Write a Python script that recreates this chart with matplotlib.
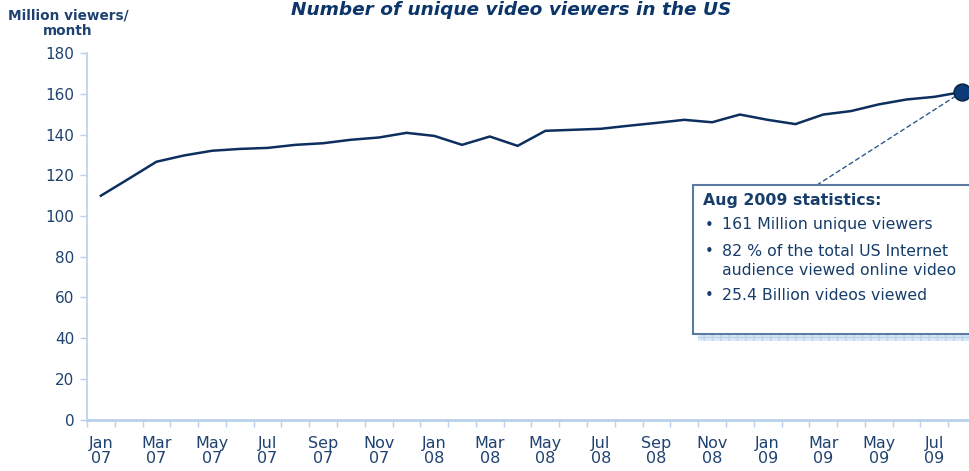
import matplotlib
matplotlib.use("Agg")
import matplotlib.pyplot as plt
from matplotlib.patches import Rectangle
import numpy as np

# Monthly unique video viewers in the US (millions), Jan 2007 - Aug 2009
months = ["Jan", "Feb", "Mar", "Apr", "May", "Jun", "Jul", "Aug", "Sep", "Oct", "Nov", "Dec"]
years = ["07", "08", "09"]
viewers = [110.0, 118.3, 126.7, 129.8, 132.1, 133.0, 133.5, 135.0, 135.8, 137.5, 138.6, 140.9,
           139.4, 135.0, 139.1, 134.5, 141.9, 142.4, 142.9, 144.4, 145.8, 147.3, 146.1, 149.9,
           147.3, 145.2, 149.9, 151.6, 154.9, 157.3, 158.6, 161.0]
labels = [f"{months[i % 12]}\n{years[i // 12]}" for i in range(len(viewers))]

title = "Number of unique video viewers in the US"
ylabel = "Million viewers/\nmonth"
box_title = "Aug 2009 statistics:"
box_items = ["161 Million unique viewers",
             "82 % of the total US Internet\naudience viewed online video",
             "25.4 Billion videos viewed"]

NAVY = "#0d2f5f"
TEXT = "#1f4270"
BOXTEXT = "#173d6b"
AXIS = "#b9d1ea"

W, H = 970, 471
fig = plt.figure(figsize=(W / 100, H / 100), dpi=100)
fig.patch.set_facecolor("white")

def fx(px):
    return px / W

def fy(py):
    return 1 - py / H

ax_left, ax_right, ax_top, ax_bottom = 87, 976, 53.3, 419.5
ax = fig.add_axes([fx(ax_left), fy(ax_bottom), fx(ax_right - ax_left), (ax_bottom - ax_top) / H])

x = np.arange(len(viewers))
ax.plot(x, viewers, color=NAVY, lw=1.8, solid_joinstyle="miter", clip_on=False)
ax.plot(x[-1], viewers[-1], "o", ms=12, mfc="#0e3c78", mec="#0a2548", mew=1.2, clip_on=False, zorder=5)

ax.set_xlim(-0.5, len(viewers) - 0.5)
ax.set_ylim(0, 180)
ax.set_yticks(np.arange(0, 181, 20))
ax.set_xticks(x[::2])
ax.set_xticklabels(labels[::2])
ax.set_xticks(np.arange(-0.5, len(viewers), 1), minor=True)

for s in ["top", "right"]:
    ax.spines[s].set_visible(False)
for s in ["left", "bottom"]:
    ax.spines[s].set_color(AXIS)
    ax.spines[s].set_linewidth(1.2)
ax.spines["bottom"].set_linewidth(2.0)

ax.tick_params(axis="y", length=5, width=1, color=AXIS, labelsize=11, labelcolor=TEXT, pad=4)
ax.tick_params(axis="x", which="major", length=0, labelsize=11.5, labelcolor=TEXT, pad=12)
ax.tick_params(axis="x", which="minor", length=5, width=1, color=AXIS, direction="out")
for t in ax.get_xticklabels():
    t.set_linespacing(1.0)

# Title and axis caption
fig.text(fx(511), fy(10), title, ha="center", va="center", fontsize=13.3,
         fontweight="bold", fontstyle="italic", color="#0c3569")
fig.text(fx(68), fy(23), ylabel, ha="center", va="center", fontsize=9.8,
         fontweight="bold", color=TEXT, linespacing=1.1)

# Callout box with shadow strip
box_l, box_t, box_b = 693, 185, 334
shadow = Rectangle((fx(698), fy(341)), fx(W - 698), (341 - box_b) / H, transform=fig.transFigure,
                   facecolor="#dbe8f6", edgecolor="#bcd3ec", hatch="++", lw=0, zorder=3)
fig.add_artist(shadow)
box = Rectangle((fx(box_l), fy(box_b)), fx(W - box_l + 10), (box_b - box_t) / H,
                transform=fig.transFigure, facecolor="white", edgecolor="#5b7aa0", lw=1.5, zorder=4)
fig.add_artist(box)

# Dashed leader from the last point to the box
ax.annotate("", xy=(x[-1], viewers[-1]), xycoords="data",
            xytext=(fx(817), fy(box_t)), textcoords="figure fraction",
            arrowprops=dict(arrowstyle="-", ls=(0, (3, 2.5)), color="#2c5a8c", lw=1.0,
                            shrinkA=0, shrinkB=6), annotation_clip=False, zorder=3)

fig.text(fx(703), fy(201), box_title, ha="left", va="center", fontsize=11.3,
         fontweight="bold", color=BOXTEXT, zorder=6)
ys = [225, 251.7, 296]
line_gap = 18.5
for yy, item in zip(ys, box_items):
    fig.text(fx(705), fy(yy), "\u2022", ha="left", va="center", fontsize=10.5,
             color=BOXTEXT, zorder=6)
    for k, line in enumerate(item.split("\n")):
        fig.text(fx(722), fy(yy + k * line_gap), line, ha="left", va="center",
                 fontsize=11.3, color=BOXTEXT, zorder=6)

fig.savefig("out.png", dpi=100)
